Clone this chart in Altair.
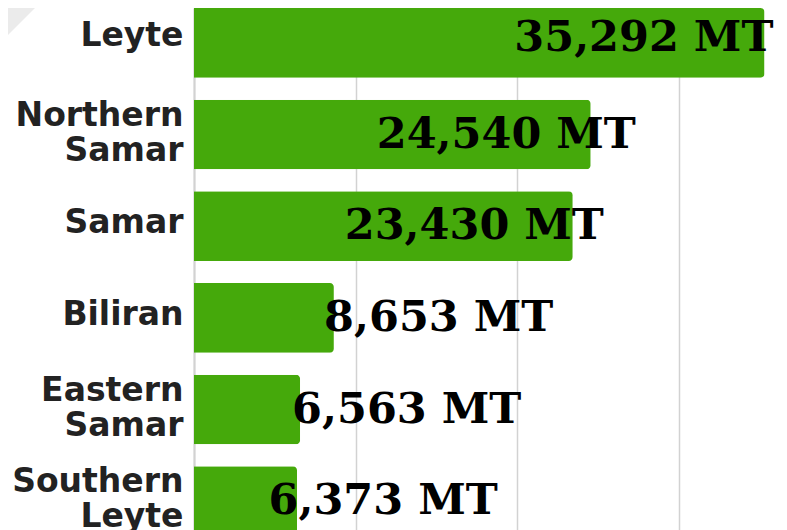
import altair as alt
import pandas as pd

# ---- data ----
regions = ["Leyte", "Northern Samar", "Samar", "Biliran", "Eastern Samar", "Southern Leyte"]
production_mt = [35292, 24540, 23430, 8653, 6563, 6373]
label_anchor_mt = [27830, 19320, 17340, 15140, 13160, 11700]  # where each value label sits (in MT units)

df = pd.DataFrame({
    "region": regions,
    "production": production_mt,
    "label_at": label_anchor_mt,
    "label": [f"{v:,} MT" for v in production_mt],
})

GREEN = "#45a90b"
GRID = "#d2d2d2"

y_scale = alt.Scale(paddingInner=0.24, paddingOuter=0)

y_enc = alt.Y(
    "region:N",
    sort=None,
    scale=y_scale,
    axis=alt.Axis(
        title=None,
        ticks=False,
        domain=True,
        domainColor=GRID,
        domainWidth=2,
        labelFont="DejaVu Sans",
        labelFontWeight=700,
        labelFontSize=33,
        labelColor="#222222",
        labelPadding=11,
        labelLineHeight=35,
        labelLimit=0,
        labelExpr="split(datum.label, ' ')",
        labelOffset={
            "condition": [
                {"test": "indexof(datum.label, ' ') >= 0", "value": -19},
                {"test": "datum.label == 'Leyte'", "value": -7},
            ],
            "value": -3,
        },
    ),
)

x_scale = alt.Scale(domain=[0, 36190], nice=False)

base = alt.Chart(df)

bars = base.mark_bar(color=GREEN, cornerRadiusEnd=4).encode(
    x=alt.X(
        "production:Q",
        scale=x_scale,
        axis=alt.Axis(
            title=None,
            labels=False,
            ticks=False,
            domain=False,
            grid=True,
            gridColor=GRID,
            gridWidth=1.5,
            values=[0, 10000, 20000, 30000],
        ),
    ),
    y=y_enc,
)

text_style = dict(
    align="center",
    baseline="middle",
    font="DejaVu Serif",
    fontWeight="bold",
    fontSize=43,
    color="#000000",
)
text_enc = dict(
    x=alt.X("label_at:Q", scale=x_scale),
    y=alt.Y("region:N", sort=None),
    text="label:N",
)

labels_top = base.transform_filter("datum.region == 'Leyte'").mark_text(dy=-5, **text_style).encode(**text_enc)
labels_rest = base.transform_filter("datum.region != 'Leyte'").mark_text(**text_style).encode(**text_enc)

corner = alt.Chart(df.head(1)).mark_point(
    shape="M -1 -1 L 1 -1 L -1 1 Z",
    filled=True,
    color="#ebebeb",
    opacity=1,
    size=729,
).encode(
    x=alt.value(-172.5),
    y=alt.value(13.5),
)

chart = alt.layer(corner, bars, labels_top, labels_rest).properties(
    width=585,
    height=528,
    autosize="none",
    padding={"left": 186, "top": 0, "right": 0, "bottom": 0},
).configure_view(stroke=None)

chart.save("out.html", embed_options={"renderer": "svg", "actions": False})
